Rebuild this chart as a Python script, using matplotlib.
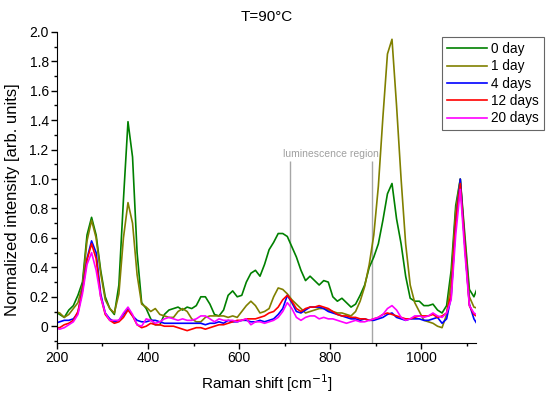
import numpy as np
import matplotlib
matplotlib.use("Agg")
import matplotlib.pyplot as plt
from matplotlib.ticker import MultipleLocator, FuncFormatter

plt.rcParams['font.family'] = ['Liberation Sans', 'DejaVu Sans']

raman_shift = np.arange(196, 1127, 10)

day0 = [0.10, 0.08, 0.06, 0.11, 0.14, 0.21, 0.30, 0.62, 0.74, 0.62,
        0.38, 0.20, 0.12, 0.08, 0.28, 0.86, 1.39, 1.15, 0.50, 0.16,
        0.12, 0.05, 0.01, 0.01, 0.08, 0.11, 0.12, 0.13, 0.11, 0.13,
        0.12, 0.14, 0.20, 0.20, 0.15, 0.08, 0.07, 0.11, 0.21, 0.24,
        0.20, 0.21, 0.30, 0.36, 0.38, 0.34, 0.42, 0.52, 0.57, 0.63,
        0.63, 0.61, 0.54, 0.47, 0.38, 0.31, 0.34, 0.31, 0.28, 0.31,
        0.30, 0.20, 0.17, 0.19, 0.16, 0.13, 0.15, 0.21, 0.28, 0.40,
        0.47, 0.56, 0.72, 0.90, 0.97, 0.73, 0.56, 0.34, 0.19, 0.17,
        0.17, 0.14, 0.14, 0.15, 0.11, 0.09, 0.14, 0.38, 0.82, 1.00,
        0.62, 0.25, 0.20, 0.28]

day1 = [0.10, 0.09, 0.06, 0.08, 0.12, 0.16, 0.28, 0.58, 0.72, 0.60,
        0.36, 0.18, 0.12, 0.09, 0.22, 0.60, 0.84, 0.70, 0.35, 0.15,
        0.13, 0.10, 0.12, 0.08, 0.07, 0.06, 0.06, 0.10, 0.12, 0.10,
        0.05, 0.03, 0.03, 0.06, 0.07, 0.07, 0.07, 0.07, 0.06, 0.07,
        0.06, 0.10, 0.14, 0.17, 0.14, 0.09, 0.10, 0.12, 0.20, 0.26,
        0.25, 0.22, 0.18, 0.15, 0.12, 0.09, 0.10, 0.11, 0.12, 0.12,
        0.11, 0.10, 0.09, 0.09, 0.08, 0.07, 0.10, 0.17, 0.27, 0.42,
        0.62, 0.95, 1.42, 1.85, 1.95, 1.50, 1.00, 0.56, 0.28, 0.16,
        0.10, 0.04, 0.03, 0.02, 0.00, -0.01, 0.08, 0.32, 0.78, 1.00,
        0.58, 0.20, 0.13, 0.12]

day4 = [0.02, 0.03, 0.04, 0.04, 0.05, 0.09, 0.25, 0.46, 0.58, 0.50,
        0.22, 0.09, 0.05, 0.03, 0.04, 0.08, 0.12, 0.07, 0.04, 0.03,
        0.03, 0.04, 0.04, 0.03, 0.02, 0.02, 0.02, 0.02, 0.02, 0.02,
        0.02, 0.02, 0.02, 0.01, 0.02, 0.02, 0.03, 0.02, 0.04, 0.03,
        0.03, 0.04, 0.04, 0.03, 0.03, 0.04, 0.03, 0.04, 0.05, 0.08,
        0.12, 0.21, 0.16, 0.10, 0.09, 0.11, 0.13, 0.13, 0.13, 0.12,
        0.10, 0.09, 0.08, 0.07, 0.06, 0.05, 0.05, 0.04, 0.05, 0.04,
        0.04, 0.05, 0.06, 0.08, 0.09, 0.06, 0.05, 0.04, 0.05, 0.05,
        0.05, 0.04, 0.04, 0.05, 0.06, 0.02, 0.05, 0.20, 0.70, 1.00,
        0.55, 0.15, 0.05, 0.00]

day12 = [-0.01, -0.01, 0.01, 0.02, 0.04, 0.10, 0.24, 0.45, 0.56, 0.46,
         0.20, 0.08, 0.04, 0.02, 0.03, 0.06, 0.11, 0.07, 0.01, -0.01,
         0.00, 0.02, 0.01, 0.01, 0.00, 0.00, 0.00, -0.01, -0.02, -0.03,
         -0.02, -0.01, -0.01, -0.02, -0.01, 0.00, 0.01, 0.01, 0.02, 0.03,
         0.04, 0.04, 0.05, 0.05, 0.05, 0.06, 0.07, 0.09, 0.10, 0.13,
         0.18, 0.21, 0.17, 0.12, 0.10, 0.12, 0.13, 0.13, 0.14, 0.13,
         0.12, 0.10, 0.08, 0.07, 0.07, 0.06, 0.06, 0.05, 0.05, 0.04,
         0.05, 0.06, 0.08, 0.09, 0.08, 0.07, 0.06, 0.05, 0.05, 0.06,
         0.07, 0.07, 0.07, 0.08, 0.06, 0.07, 0.09, 0.22, 0.70, 0.97,
         0.55, 0.14, 0.08, 0.06]

day20 = [-0.01, -0.02, -0.01, 0.01, 0.03, 0.08, 0.22, 0.42, 0.50, 0.38,
         0.20, 0.09, 0.04, 0.04, 0.04, 0.09, 0.13, 0.08, 0.01, 0.00,
         0.05, 0.04, 0.02, 0.03, 0.05, 0.06, 0.05, 0.04, 0.05, 0.04,
         0.04, 0.05, 0.07, 0.07, 0.05, 0.03, 0.05, 0.04, 0.04, 0.04,
         0.03, 0.04, 0.05, 0.01, 0.03, 0.03, 0.02, 0.03, 0.04, 0.06,
         0.10, 0.16, 0.12, 0.06, 0.04, 0.06, 0.07, 0.07, 0.05, 0.06,
         0.05, 0.05, 0.04, 0.03, 0.02, 0.03, 0.04, 0.03, 0.03, 0.04,
         0.05, 0.06, 0.08, 0.12, 0.14, 0.11, 0.06, 0.04, 0.05, 0.07,
         0.07, 0.06, 0.07, 0.09, 0.07, 0.06, 0.09, 0.18, 0.62, 0.93,
         0.50, 0.14, 0.09, 0.07]

labels = ["0 day", "1 day", "4 days", "12 days", "20 days"]
colors = ["#008000", "#808000", "#0000FF", "#FF0000", "#FF00FF"]
series = [day0, day1, day4, day12, day20]

region_bounds = [712, 892]
region_top = 1.12
region_label = "luminescence region"

fig = plt.figure(figsize=(5.5, 3.99), dpi=100)
ax = fig.add_axes([0.1036, 0.140, 0.7614, 0.780])

for y, c, lab in zip(series, colors, labels):
    ax.plot(raman_shift, y, color=c, lw=1.2, label=lab)

ax.vlines(region_bounds, -0.115, region_top, color="#a6a6a6", lw=1.0, zorder=0)
ax.text(np.mean(region_bounds), 1.135, region_label, color="#a0a0a0",
        fontsize=7.5, ha="center", va="bottom")

ax.set_xlim(200, 1120)
ax.set_ylim(-0.115, 2.0)
ax.spines['top'].set_visible(False)
ax.spines['right'].set_visible(False)
ax.xaxis.set_major_locator(MultipleLocator(200))
ax.xaxis.set_minor_locator(MultipleLocator(100))
ax.yaxis.set_major_locator(MultipleLocator(0.2))
ax.yaxis.set_minor_locator(MultipleLocator(0.1))
ax.yaxis.set_major_formatter(FuncFormatter(lambda v, p: "0" if abs(v) < 1e-9 else f"{v:.1f}"))
ax.tick_params(which='major', direction='out', length=4, width=1, labelsize=10, pad=2)
ax.tick_params(which='minor', direction='out', length=2.5, width=1)

ax.set_xlabel("Raman shift [cm$^{-1}$]", fontsize=11)
ax.xaxis.set_label_coords(0.5, -0.095)
ax.set_ylabel("Normalized intensity [arb. units]", fontsize=12)
ax.yaxis.set_label_coords(-0.088, 0.46)
ax.set_title("T=90°C", fontsize=11, pad=8)

leg = fig.legend(loc="upper right", bbox_to_anchor=(0.989, 0.907), fontsize=9.8,
                 frameon=True, fancybox=False, edgecolor="#404040",
                 handlelength=3.0, handletextpad=0.3, borderpad=0.35,
                 labelspacing=0.25, borderaxespad=0)
leg.get_frame().set_linewidth(0.8)

fig.savefig("out.png", dpi=100)
